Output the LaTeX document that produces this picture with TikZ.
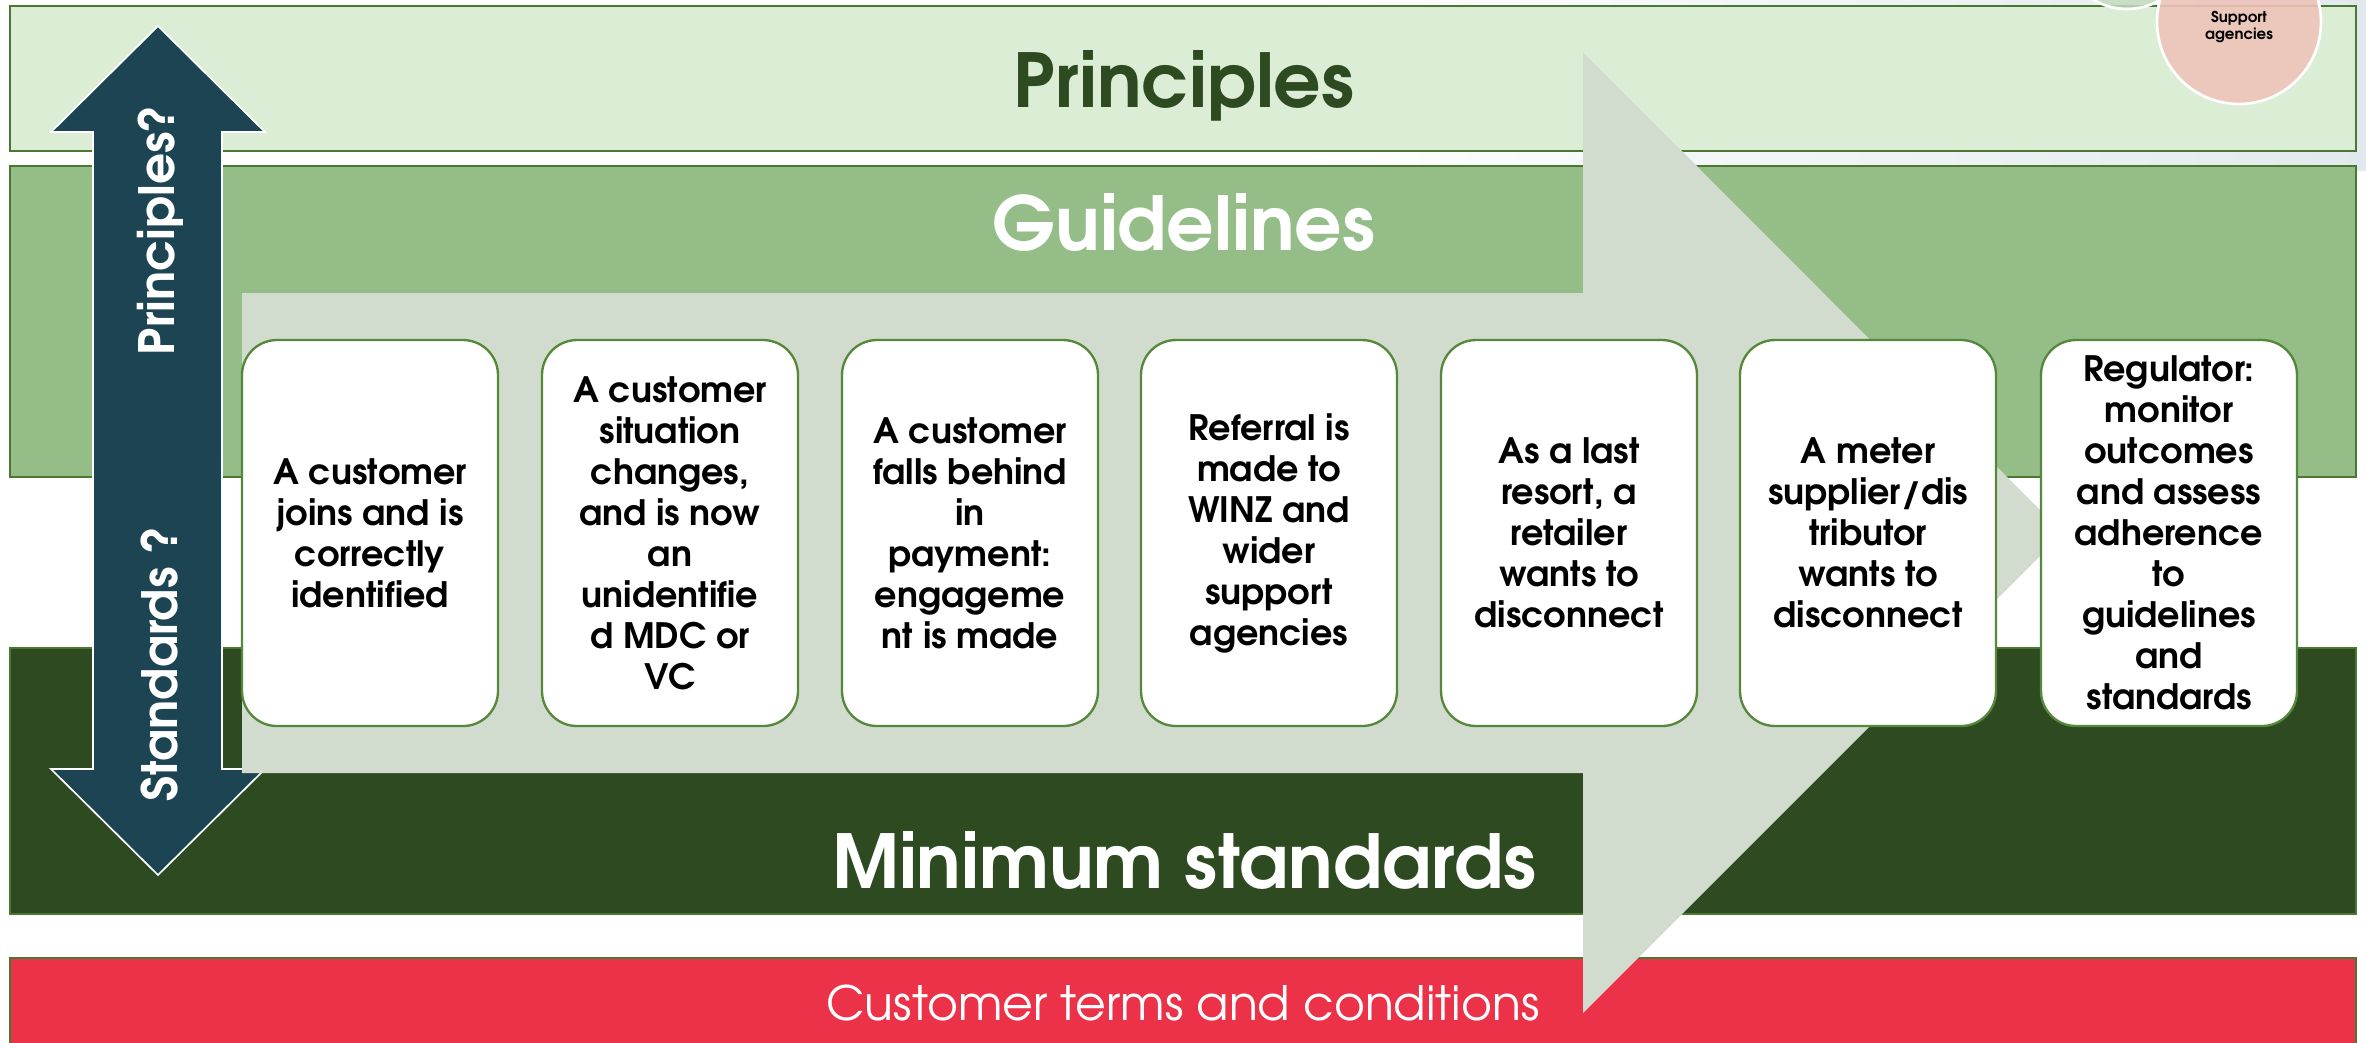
\documentclass[tikz,border=0pt]{standalone}
\usepackage{fontspec}
\setmainfont{texgyreadventor}[Extension=.otf, UprightFont=*-regular, BoldFont=*-bold, ItalicFont=*-italic, BoldItalicFont=*-bolditalic]
\definecolor{pale}{RGB}{219,237,213}
\definecolor{mid}{RGB}{149,189,136}
\definecolor{deep}{RGB}{46,74,33}
\definecolor{alert}{RGB}{236,50,72}
\definecolor{bandedge}{RGB}{75,120,48}
\definecolor{boxedge}{RGB}{85,136,58}
\definecolor{flow}{RGB}{209,220,207}
\definecolor{teal}{RGB}{29,68,82}
\definecolor{pinkfill}{RGB}{238,196,186}
\definecolor{greenfill}{RGB}{196,220,190}
\definecolor{bgright}{RGB}{226,233,238}
\begin{document}
\begin{tikzpicture}[x=0.3pt,y=-0.3pt,
  band/.style={draw=bandedge, line width=0.6pt},
  stepbox/.style={rounded corners=10.5pt, draw=boxedge, line width=0.7pt, fill=white,
    minimum width=76.8pt, minimum height=115.8pt, align=center, inner sep=0pt,
    font=\bfseries\fontsize{10.5}{12.3}\selectfont},
  title/.style={anchor=base, inner sep=0pt, font=\bfseries\fontsize{22.3}{26}\selectfont},
  sidelabel/.style={rotate=90, text=white, inner sep=0pt, font=\bfseries\fontsize{14.6}{16}\selectfont}]

% canvas
\useasboundingbox (0,0) rectangle (2366,1042);
\fill[white] (0,0) rectangle (2366,1042);
\shade[left color=white, right color=bgright] (1300,0) rectangle (2366,170);

% horizontal bands
\filldraw[band, fill=pale] (10,6) rectangle (2356,151);
\filldraw[band, fill=mid] (10,166) rectangle (2356,477);
\filldraw[band, fill=deep] (10,648) rectangle (2356,914);
\filldraw[band, fill=alert] (10,958) rectangle (2356,1060);

% circles at the top right
\draw[white, line width=0.8pt, fill=greenfill, fill opacity=0.85] (2127,-56) circle[radius=65];
\draw[white, line width=0.8pt, fill=pinkfill, fill opacity=0.9] (2239,22) circle[radius=82];
\node[align=center, inner sep=0pt, font=\bfseries\fontsize{4.5}{5}\selectfont] (support) at (2239,27) {Support\\agencies};

% double-headed vertical arrow
\filldraw[draw=white, line width=0.5pt, fill=teal]
  (158,26) -- (265,132) -- (222,132) -- (222,769) -- (265,769) -- (158,875)
  -- (51,769) -- (93,769) -- (93,132) -- (51,132) -- cycle;
\node[sidelabel] (upq) at (160,230) {Principles?};
\node[sidelabel] (downq) at (160,664) {Standards ?};

% large process arrow
\fill[flow] (242,293) -- (1583,293) -- (1583,52) -- (2063,533) -- (1583,1013)
  -- (1583,773) -- (242,773) -- cycle;

% band titles
\node[title, text=deep] (principles) at (1184,107) {Principles};
\node[title, text=white] (guidelines) at (1184,250) {Guidelines};
\node[title, text=white] (minstd) at (1184,888) {Minimum standards};
\node[anchor=base, inner sep=0pt, text=white, font=\fontsize{14.2}{16}\selectfont] (terms) at (1183,1020) {Customer terms and conditions};

% process steps
\node[stepbox] (s1) at (370,533) {A customer\\joins and is\\correctly\\identified};
\node[stepbox] (s2) at (670,533) {A customer\\situation\\changes,\\and is now\\an\\unidentifie\\d MDC or\\VC};
\node[stepbox] (s3) at (970,533) {A customer\\falls behind\\in\\payment:\\engageme\\nt is made};
\node[stepbox] (s4) at (1269,533) {Referral is\\made to\\WINZ and\\wider\\support\\agencies};
\node[stepbox] (s5) at (1569,533) {As a last\\resort, a\\retailer\\wants to\\disconnect};
\node[stepbox] (s6) at (1868,533) {A meter\\supplier/dis\\tributor\\wants to\\disconnect};
\node[stepbox] (s7) at (2169,533) {Regulator:\\monitor\\outcomes\\and assess\\adherence\\to\\guidelines\\and\\standards};
\end{tikzpicture}
\end{document}
